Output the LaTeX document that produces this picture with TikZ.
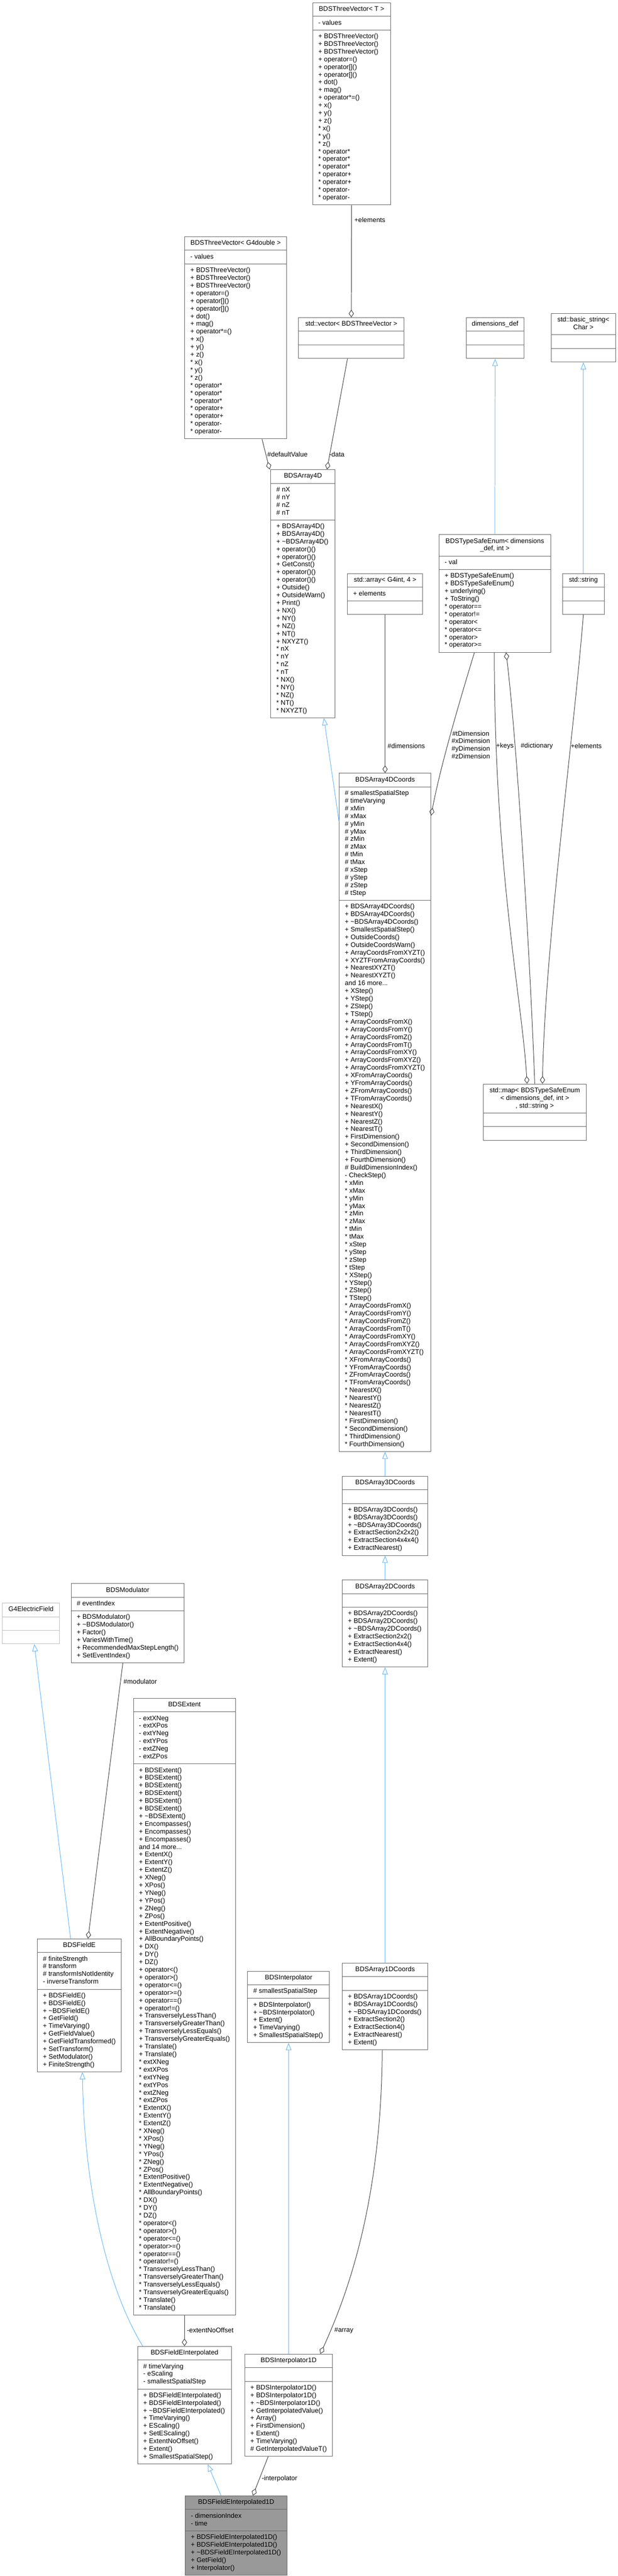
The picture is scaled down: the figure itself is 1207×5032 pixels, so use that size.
\documentclass[tikz,border=0pt]{standalone}
\usepackage{fontspec}
\setmainfont{Liberation Sans}
\usetikzlibrary{arrows.meta,shapes.multipart}

\definecolor{boxgray}{HTML}{666666}
\definecolor{edgegray}{HTML}{404040}
\definecolor{inhblue}{HTML}{63B8FF}
\definecolor{extgray}{HTML}{BFBFBF}
\definecolor{selgray}{HTML}{999999}

\newcommand\hd[1]{\begin{tabular}{@{}c@{}}#1\end{tabular}}
\newcommand\mem[1]{\begin{tabular}{@{}l@{}}#1\end{tabular}}
\newcommand\tld{\char"7E\relax}
\newcommand\tvmethods{+ BDSThreeVector()\\+ BDSThreeVector()\\+ BDSThreeVector()\\+ operator=()\\+ operator[]()\\+ operator[]()\\+ dot()\\+ mag()\\+ operator*=()\\+ x()\\+ y()\\+ z()\\{*} x()\\{*} y()\\{*} z()\\{*} operator*\\{*} operator*\\{*} operator*\\{*} operator+\\{*} operator+\\{*} operator-\\{*} operator-}

\begin{document}
\begin{tikzpicture}[x=1pt,y=-1pt,font=\fontsize{13}{15}\selectfont,line width=1pt]
  \tikzstyle{cls}=[rectangle split,rectangle split parts=3,draw=boxgray,fill=white,
                   anchor=north,inner xsep=11pt,inner ysep=5.3pt,
                   rectangle split part align={center,left,left}]
  \tikzstyle{ext}=[cls,draw=extgray]
  \tikzstyle{agg}=[draw=edgegray,-{Diamond[open,length=15pt,width=10pt]}]
  \tikzstyle{inh}=[draw=inhblue,-{Triangle[open,length=14pt,width=11pt]}]
  \tikzstyle{lbl}=[anchor=west,inner sep=0pt]

  \useasboundingbox (0,0) rectangle (1207,5032);

  % templates and std containers
  \node[cls,minimum width=152pt] (t3v) at (687,5)
    {\hd{BDSThreeVector< T >}\nodepart{two}\mem{- values}\nodepart{three}\mem{\tvmethods}};
  \node[cls,minimum width=199pt] (g4v) at (460.5,462)
    {\hd{BDSThreeVector< G4double >}\nodepart{two}\mem{- values}\nodepart{three}\mem{\tvmethods}};
  \node[cls,minimum width=207pt] (vec) at (686.5,620)
    {\hd{std::vector< BDSThreeVector >}\nodepart{two}\strut\nodepart{three}\strut};
  \node[cls,minimum width=113pt] (dd) at (967.5,620)
    {\hd{dimensions\_def}\nodepart{two}\strut\nodepart{three}\strut};
  \node[cls,minimum width=126pt] (bs) at (1140,612)
    {\hd{std::basic\_string<\\Char >}\nodepart{two}\strut\nodepart{three}\strut};

  \node[cls,minimum width=126pt] (a4) at (592,917)
    {\hd{BDSArray4D}\nodepart{two}\mem{\# nX\\\# nY\\\# nZ\\\# nT}\nodepart{three}
     \mem{+ BDSArray4D()\\+ BDSArray4D()\\+ \tld BDSArray4D()\\+ operator()()\\+ operator()()\\+ GetConst()\\+ operator()()\\+ operator()()\\+ Outside()\\+ OutsideWarn()\\+ Print()\\+ NX()\\+ NY()\\+ NZ()\\+ NT()\\+ NXYZT()\\{*} nX\\{*} nY\\{*} nZ\\{*} nT\\{*} NX()\\{*} NY()\\{*} NZ()\\{*} NT()\\{*} NXYZT()}};
  \node[cls,minimum width=147pt] (arr) at (752.5,1120)
    {\hd{std::array< G4int, 4 >}\nodepart{two}\mem{+ elements}\nodepart{three}\strut};
  \node[cls,minimum width=218pt] (tse) at (967,1044)
    {\hd{BDSTypeSafeEnum< dimensions\\\_def, int >}\nodepart{two}\mem{- val}\nodepart{three}
     \mem{+ BDSTypeSafeEnum()\\+ BDSTypeSafeEnum()\\+ underlying()\\+ ToString()\\{*} operator==\\{*} operator!=\\{*} operator<\\{*} operator<=\\{*} operator>\\{*} operator>=}};
  \node[cls,minimum width=82pt] (str) at (1140,1120)
    {\hd{std::string}\nodepart{two}\strut\nodepart{three}\strut};

  % coordinate arrays
  \node[cls,minimum width=179pt] (c4) at (752.5,1510)
    {\hd{BDSArray4DCoords}\nodepart{two}
     \mem{\# smallestSpatialStep\\\# timeVarying\\\# xMin\\\# xMax\\\# yMin\\\# yMax\\\# zMin\\\# zMax\\\# tMin\\\# tMax\\\# xStep\\\# yStep\\\# zStep\\\# tStep}\nodepart{three}
     \mem{+ BDSArray4DCoords()\\+ BDSArray4DCoords()\\+ \tld BDSArray4DCoords()\\+ SmallestSpatialStep()\\+ OutsideCoords()\\+ OutsideCoordsWarn()\\+ ArrayCoordsFromXYZT()\\+ XYZTFromArrayCoords()\\+ NearestXYZT()\\+ NearestXYZT()\\and 16 more...\\+ XStep()\\+ YStep()\\+ ZStep()\\+ TStep()\\+ ArrayCoordsFromX()\\+ ArrayCoordsFromY()\\+ ArrayCoordsFromZ()\\+ ArrayCoordsFromT()\\+ ArrayCoordsFromXY()\\+ ArrayCoordsFromXYZ()\\+ ArrayCoordsFromXYZT()\\+ XFromArrayCoords()\\+ YFromArrayCoords()\\+ ZFromArrayCoords()\\+ TFromArrayCoords()\\+ NearestX()\\+ NearestY()\\+ NearestZ()\\+ NearestT()\\+ FirstDimension()\\+ SecondDimension()\\+ ThirdDimension()\\+ FourthDimension()\\\# BuildDimensionIndex()\\- CheckStep()\\{*} xMin\\{*} xMax\\{*} yMin\\{*} yMax\\{*} zMin\\{*} zMax\\{*} tMin\\{*} tMax\\{*} xStep\\{*} yStep\\{*} zStep\\{*} tStep\\{*} XStep()\\{*} YStep()\\{*} ZStep()\\{*} TStep()\\{*} ArrayCoordsFromX()\\{*} ArrayCoordsFromY()\\{*} ArrayCoordsFromZ()\\{*} ArrayCoordsFromT()\\{*} ArrayCoordsFromXY()\\{*} ArrayCoordsFromXYZ()\\{*} ArrayCoordsFromXYZT()\\{*} XFromArrayCoords()\\{*} YFromArrayCoords()\\{*} ZFromArrayCoords()\\{*} TFromArrayCoords()\\{*} NearestX()\\{*} NearestY()\\{*} NearestZ()\\{*} NearestT()\\{*} FirstDimension()\\{*} SecondDimension()\\{*} ThirdDimension()\\{*} FourthDimension()}};
  \node[cls,minimum width=202pt] (map) at (1045,2117)
    {\hd{std::map< BDSTypeSafeEnum\\< dimensions\_def, int >\\, std::string >}\nodepart{two}\strut\nodepart{three}\strut};
  \node[cls,minimum width=167pt] (c3) at (752.5,2883)
    {\hd{BDSArray3DCoords}\nodepart{two}\strut\nodepart{three}
     \mem{+ BDSArray3DCoords()\\+ BDSArray3DCoords()\\+ \tld BDSArray3DCoords()\\+ ExtractSection2x2x2()\\+ ExtractSection4x4x4()\\+ ExtractNearest()}};
  \node[cls,minimum width=167pt] (c2) at (752.5,3086)
    {\hd{BDSArray2DCoords}\nodepart{two}\strut\nodepart{three}
     \mem{+ BDSArray2DCoords()\\+ BDSArray2DCoords()\\+ \tld BDSArray2DCoords()\\+ ExtractSection2x2()\\+ ExtractSection4x4()\\+ ExtractNearest()\\+ Extent()}};
  \node[cls,minimum width=167pt] (c1) at (752.5,3834)
    {\hd{BDSArray1DCoords}\nodepart{two}\strut\nodepart{three}
     \mem{+ BDSArray1DCoords()\\+ BDSArray1DCoords()\\+ \tld BDSArray1DCoords()\\+ ExtractSection2()\\+ ExtractSection4()\\+ ExtractNearest()\\+ Extent()}};

  % fields
  \node[ext,minimum width=111pt] (g4ef) at (60.5,3131)
    {\hd{G4ElectricField}\nodepart{two}\strut\nodepart{three}\strut};
  \node[cls,minimum width=221pt] (mod) at (249.5,3093)
    {\hd{BDSModulator}\nodepart{two}\mem{\# eventIndex}\nodepart{three}
     \mem{+ BDSModulator()\\+ \tld BDSModulator()\\+ Factor()\\+ VariesWithTime()\\+ RecommendedMaxStepLength()\\+ SetEventIndex()}};
  \node[cls,minimum width=199pt] (ext) at (360.5,3317)
    {\hd{BDSExtent}\nodepart{two}
     \mem{- extXNeg\\- extXPos\\- extYNeg\\- extYPos\\- extZNeg\\- extZPos}\nodepart{three}
     \mem{+ BDSExtent()\\+ BDSExtent()\\+ BDSExtent()\\+ BDSExtent()\\+ BDSExtent()\\+ BDSExtent()\\+ \tld BDSExtent()\\+ Encompasses()\\+ Encompasses()\\+ Encompasses()\\and 14 more...\\+ ExtentX()\\+ ExtentY()\\+ ExtentZ()\\+ XNeg()\\+ XPos()\\+ YNeg()\\+ YPos()\\+ ZNeg()\\+ ZPos()\\+ ExtentPositive()\\+ ExtentNegative()\\+ AllBoundaryPoints()\\+ DX()\\+ DY()\\+ DZ()\\+ operator<()\\+ operator>()\\+ operator<=()\\+ operator>=()\\+ operator==()\\+ operator!=()\\+ TransverselyLessThan()\\+ TransverselyGreaterThan()\\+ TransverselyLessEquals()\\+ TransverselyGreaterEquals()\\+ Translate()\\+ Translate()\\{*} extXNeg\\{*} extXPos\\{*} extYNeg\\{*} extYPos\\{*} extZNeg\\{*} extZPos\\{*} ExtentX()\\{*} ExtentY()\\{*} ExtentZ()\\{*} XNeg()\\{*} XPos()\\{*} YNeg()\\{*} YPos()\\{*} ZNeg()\\{*} ZPos()\\{*} ExtentPositive()\\{*} ExtentNegative()\\{*} AllBoundaryPoints()\\{*} DX()\\{*} DY()\\{*} DZ()\\{*} operator<()\\{*} operator>()\\{*} operator<=()\\{*} operator>=()\\{*} operator==()\\{*} operator!=()\\{*} TransverselyLessThan()\\{*} TransverselyGreaterThan()\\{*} TransverselyLessEquals()\\{*} TransverselyGreaterEquals()\\{*} Translate()\\{*} Translate()}};
  \node[cls,minimum width=164pt] (fe) at (155,3787)
    {\hd{BDSFieldE}\nodepart{two}
     \mem{\# finiteStrength\\\# transform\\\# transformIsNotIdentity\\- inverseTransform}\nodepart{three}
     \mem{+ BDSFieldE()\\+ BDSFieldE()\\+ \tld BDSFieldE()\\+ GetField()\\+ TimeVarying()\\+ GetFieldValue()\\+ GetFieldTransformed()\\+ SetTransform()\\+ SetModulator()\\+ FiniteStrength()}};
  \node[cls,minimum width=160pt] (ip) at (564,3850)
    {\hd{BDSInterpolator}\nodepart{two}\mem{\# smallestSpatialStep}\nodepart{three}
     \mem{+ BDSInterpolator()\\+ \tld BDSInterpolator()\\+ Extent()\\+ TimeVarying()\\+ SmallestSpatialStep()}};
  \node[cls,minimum width=183pt] (fei) at (360.5,4583)
    {\hd{BDSFieldEInterpolated}\nodepart{two}
     \mem{\# timeVarying\\- eScaling\\- smallestSpatialStep}\nodepart{three}
     \mem{+ BDSFieldEInterpolated()\\+ BDSFieldEInterpolated()\\+ \tld BDSFieldEInterpolated()\\+ TimeVarying()\\+ EScaling()\\+ SetEScaling()\\+ ExtentNoOffset()\\+ Extent()\\+ SmallestSpatialStep()}};
  \node[cls,minimum width=170pt] (i1) at (564,4598)
    {\hd{BDSInterpolator1D}\nodepart{two}\strut\nodepart{three}
     \mem{+ BDSInterpolator1D()\\+ BDSInterpolator1D()\\+ \tld BDSInterpolator1D()\\+ GetInterpolatedValue()\\+ Array()\\+ FirstDimension()\\+ Extent()\\+ TimeVarying()\\\# GetInterpolatedValueT()}};
  \node[cls,fill=selgray,minimum width=199pt] (fe1) at (461.5,4875)
    {\hd{BDSFieldEInterpolated1D}\nodepart{two}\mem{- dimensionIndex\\- time}\nodepart{three}
     \mem{+ BDSFieldEInterpolated1D()\\+ BDSFieldEInterpolated1D()\\+ \tld BDSFieldEInterpolated1D()\\+ GetField()\\+ Interpolator()}};

  % usage (diamond at the owner)
  \draw[agg] (t3v.south) -- (vec.north);
  \draw[agg] ([xshift=-7.5pt]vec.south) -- ([xshift=47pt]a4.north);
  \draw[agg] ([xshift=51.5pt]g4v.south) -- ([xshift=-65pt]a4.north);
  \draw[agg] (arr.south) -- (c4.north);
  \draw[agg] ([xshift=-40pt]tse.south) .. controls (895,1380) and (860,1500) .. ([yshift=-83pt]c4.north east);
  \draw[agg] ([xshift=-1pt]tse.south) .. controls (966,1700) and (1020,1950) .. ([xshift=-15pt]map.north);
  \draw[agg] (map.north) .. controls (1035,1850) and (1010,1450) .. ([xshift=22pt]tse.south);
  \draw[agg] (str.south) .. controls (1120,1450) and (1065,1850) .. ([xshift=15pt]map.north);
  \draw[agg] ([xshift=-9.5pt]mod.south) -- ([xshift=17pt]fe.north);
  \draw[agg] (ext.south) -- (fei.north);
  \draw[agg] ([xshift=-5.5pt]c1.south) .. controls (745,4300) and (680,4480) .. ([xshift=62pt]i1.north);
  \draw[agg] ([xshift=-40pt]i1.south) -- ([xshift=32.5pt]fe1.north);

  % inheritance
  \draw[inh] (tse.north) -- (dd.south);
  \draw[inh] (str.north) -- (bs.south);
  \draw[inh] ([yshift=-95pt]c4.north west) -- ([xshift=41pt]a4.south);
  \draw[inh] (c3.north) -- (c4.south);
  \draw[inh] (c2.north) -- (c3.south);
  \draw[inh] (c1.north) -- (c2.south);
  \draw[inh] ([xshift=-17pt]fe.north) -- ([xshift=6.5pt]g4ef.south);
  \draw[inh] ([xshift=-81.5pt]fei.north) .. controls (210,4470) and (165,4280) .. ([xshift=6pt]fe.south);
  \draw[inh] (i1.north) -- (ip.south);
  \draw[inh] ([xshift=-29.5pt]fe1.north) -- ([xshift=45.5pt]fei.south);

  % edge labels
  \node[lbl] (lElements) at (692,430) {+elements};
  \node[lbl] (lDefault) at (522,888) {\#defaultValue};
  \node[lbl] (lData) at (643,888) {-data};
  \node[lbl] (lDims) at (757,1457) {\#dimensions};
  \node[align=center,inner sep=0pt] (lAxes) at (920,1455) {\#tDimension\\\#xDimension\\\#yDimension\\\#zDimension};
  \node[lbl] (lKeys) at (969,1457) {+keys};
  \node[lbl] (lDict) at (1017,1457) {\#dictionary};
  \node[lbl] (lStrings) at (1115,1457) {+elements};
  \node[lbl] (lMod) at (241,3285) {\#modulator};
  \node[lbl] (lExtent) at (365,4552) {-extentNoOffset};
  \node[lbl] (lArray) at (653,4552) {\#array};
  \node[lbl] (lInterp) at (511,4842) {-interpolator};
\end{tikzpicture}
\end{document}
